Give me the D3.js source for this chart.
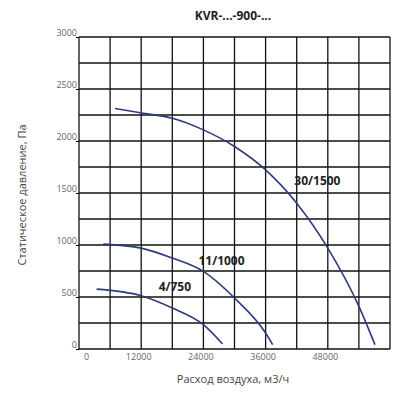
<!DOCTYPE html><html><head><meta charset="utf-8"><script src="https://cdn.jsdelivr.net/npm/d3@7"></script>
<style>body{margin:0;background:#fff}</style></head><body><svg id="c" width="400" height="400"></svg><script>
const xTicks=[0,12000,24000,36000,48000];
const yTicks=[0,500,1000,1500,2000,2500,3000];
const s30=[[6950,2312],[12400,2267],[18000,2219],[24000,2107],[30000,1947],[36000,1722],[42000,1402],[48000,970],[54000,410],[57100,42]];
const s11=[[4700,1008],[12000,970],[18000,874],[24000,746],[30000,490],[36000,154],[37360,42]];
const s4=[[3400,576],[12000,512],[18000,394],[24000,234],[27700,48]];
const labels=[["30/1500",46000,1580],["11/1000",27500,810],["4/750",18500,555]];
const svg=d3.select("#c");
const x=d3.scaleLinear([0,60000],[79,390]);
const y=d3.scaleLinear([0,3000],[349,37]);
const g=svg.append("g");
d3.range(0,60001,6000).forEach(v=>g.append("line").attr("x1",x(v)).attr("x2",x(v)).attr("y1",y(0)).attr("y2",y(3000)).attr("stroke","#111").attr("stroke-width",1.3));
d3.range(0,3001,250).forEach(v=>g.append("line").attr("x1",x(0)).attr("x2",x(60000)).attr("y1",y(v)).attr("y2",y(v)).attr("stroke","#111").attr("stroke-width",1.3));
svg.append("g").attr("transform","translate(79,0)").call(d3.axisLeft(y).tickValues(yTicks).tickSize(3).tickFormat(d3.format("d"))).call(a=>{a.select(".domain").remove();a.selectAll("text").attr("fill","#666").attr("font-size",9).attr("font-family","Open Sans").attr("dx",4).attr("dy",-2);});
svg.append("g").attr("transform","translate(0,349)").call(d3.axisBottom(x).tickValues(xTicks).tickSize(0).tickFormat(d3.format("d"))).call(a=>{a.select(".domain").remove();a.selectAll("text").attr("fill","#666").attr("font-size",9).attr("font-family","Open Sans").attr("dx",d=>d===0?7:-3).attr("dy",8);});
const line=d3.line().x(d=>x(d[0])).y(d=>y(d[1])).curve(d3.curveMonotoneX);
[s30,s11,s4].forEach(s=>svg.append("path").attr("d",line(s)).attr("fill","none").attr("stroke","#2e3a7a").attr("stroke-width",1.6));
labels.forEach(l=>svg.append("text").attr("x",x(l[1])).attr("y",y(l[2])).attr("text-anchor","middle").attr("font-family","Open Sans").attr("font-weight","bold").attr("font-size",12).attr("fill","#222").text(l[0]));
svg.append("text").attr("x",233).attr("y",20).attr("text-anchor","middle").attr("font-family","Open Sans").attr("font-weight","bold").attr("font-size",12).attr("fill","#222").text("KVR-...-900-...");
svg.append("text").attr("x",233).attr("y",383).attr("text-anchor","middle").attr("font-family","Open Sans").attr("font-size",11).attr("fill","#444").text("Расход воздуха, м3/ч");
svg.append("text").attr("transform","translate(26,195) rotate(-90)").attr("text-anchor","middle").attr("font-family","Open Sans").attr("font-size",11).attr("fill","#444").text("Статическое давление, Па");
</script></body></html>
